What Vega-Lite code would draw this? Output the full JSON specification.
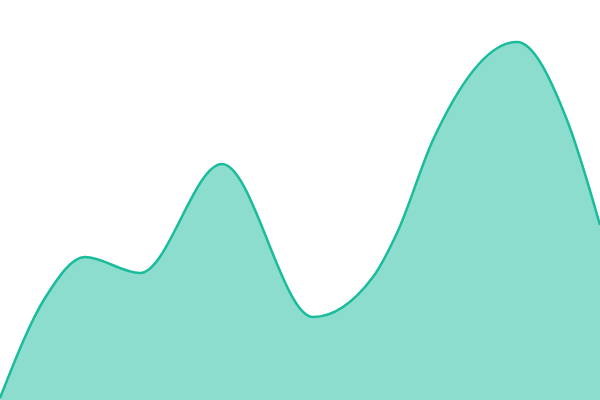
{
  "$schema": "https://vega.github.io/schema/vega-lite/v6.json",
  "width": 600,
  "height": 400,
  "autosize": {"type": "none"},
  "padding": 0,
  "config": {"view": {"stroke": null}},
  "data": {
    "values": [
      {"x": 0, "y": 2},
      {"x": 45, "y": 102},
      {"x": 85, "y": 143},
      {"x": 140, "y": 127},
      {"x": 222, "y": 236},
      {"x": 313, "y": 83},
      {"x": 373, "y": 123},
      {"x": 397, "y": 167},
      {"x": 433, "y": 260},
      {"x": 517, "y": 358},
      {"x": 567, "y": 280},
      {"x": 600, "y": 175}
    ]
  },
  "mark": {
    "type": "area",
    "interpolate": "monotone",
    "color": "#1abc9c",
    "fillOpacity": 0.5,
    "line": {"color": "#1abc9c", "strokeWidth": 2.5}
  },
  "encoding": {
    "x": {"field": "x", "type": "quantitative", "axis": null, "scale": {"domain": [0, 600], "nice": false}},
    "y": {"field": "y", "type": "quantitative", "axis": null, "scale": {"domain": [0, 400], "nice": false}}
  }
}
